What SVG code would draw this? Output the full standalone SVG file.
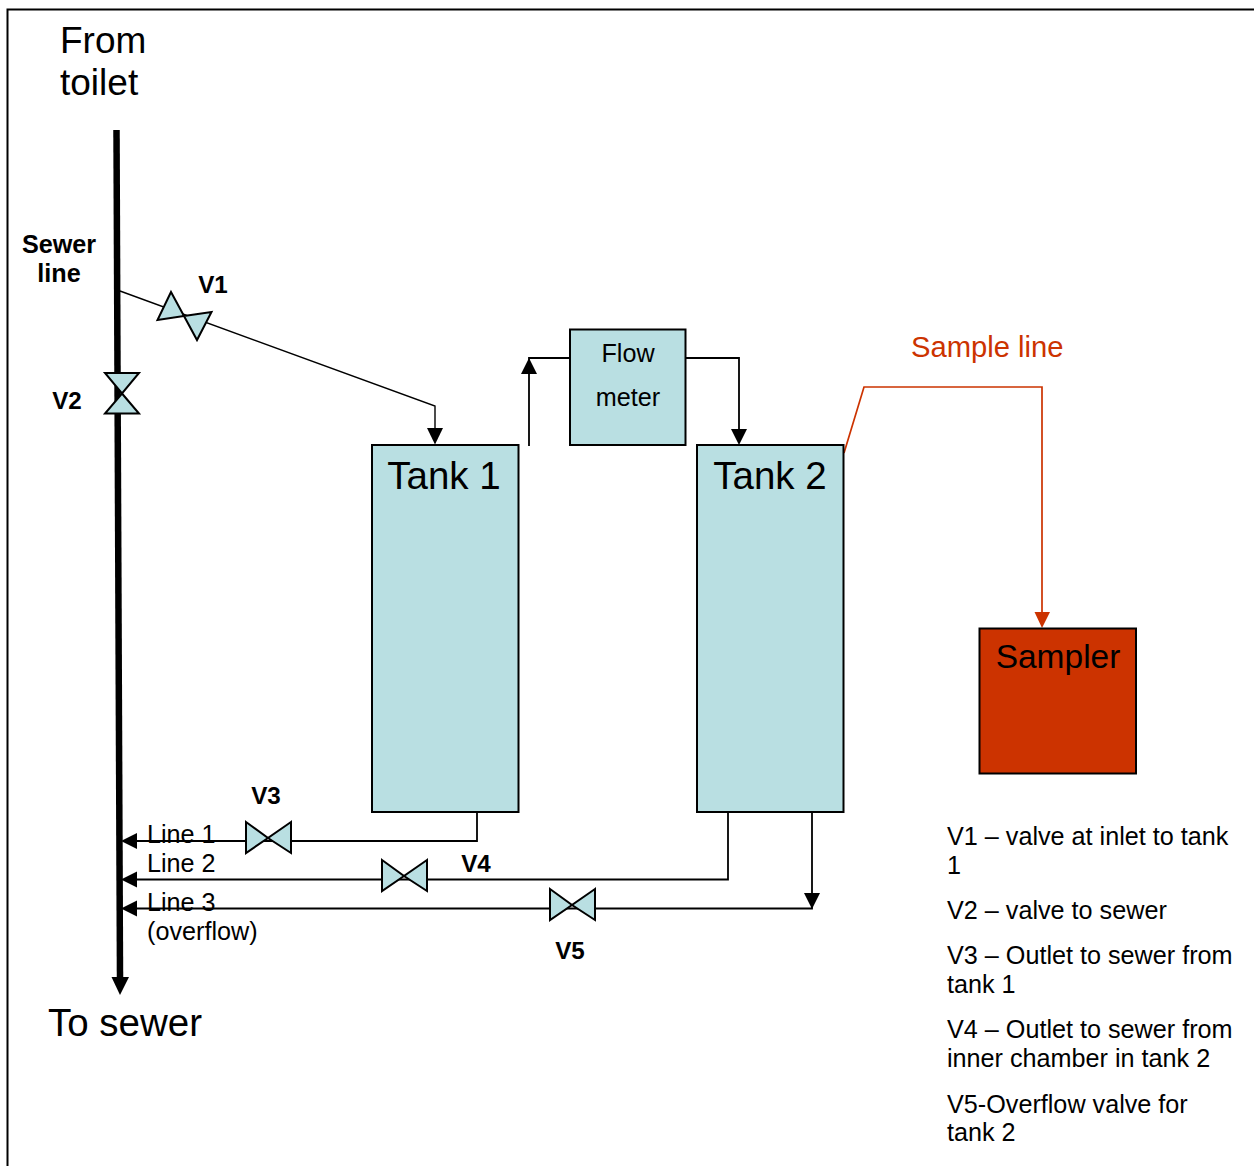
<svg xmlns="http://www.w3.org/2000/svg" width="1254" height="1166" viewBox="0 0 1254 1166">
<style>
text{font-family:"Liberation Sans",Arial,sans-serif;fill:#000}
.box{fill:#b9dfe2;stroke:#000;stroke-width:2}
.v{fill:#b9dfe2;stroke:#000;stroke-width:2;stroke-linejoin:miter}
.l{fill:none;stroke:#000;stroke-width:1.8}
.b{font-weight:bold;font-size:25.200px;text-anchor:middle}
.vl{font-weight:bold;font-size:24.200px;text-anchor:middle}
.t{font-size:25.200px}
.big{font-size:37px}
.huge{font-size:38.500px}
.ah{fill:#000;stroke:none}
</style>
<rect width="1254" height="1166" fill="#fff"/>
<path id="frame" d="M7.500 1166V9.500H1254" fill="none" stroke="#000" stroke-width="2"/>
<g id="connectors">
<path d="M116.500 130L120 978" fill="none" stroke="#000" stroke-width="6.500"/>
<path class="ah" d="M111.500 977H129L120 995Z"/>
<path class="l" style="stroke-width:1.400" d="M120 291L435 406V430"/>
<path class="ah" d="M427 428H443L435 444.500Z"/>
<path class="l" d="M529 446V358H570"/>
<path class="ah" d="M521 374H537L529 358Z"/>
<path class="l" d="M686 358H739V430"/>
<path class="ah" d="M731 429H747L739 445Z"/>
<path class="l" d="M477 812V841H135"/>
<path class="ah" d="M121 841L137 833V849Z"/>
<path class="l" d="M728 812V879.500H135"/>
<path class="ah" d="M121 879.500L137 871.500V887.500Z"/>
<path class="l" d="M812 812V908.500H135"/>
<path class="ah" d="M121 908.500L137 900.500V916.500Z"/>
<path class="ah" d="M804 893H820L812 909Z"/>
<path d="M844 453L864 387H1042V614" fill="none" stroke="#cc3300" stroke-width="1.700"/>
<path d="M1034.500 612H1050L1042 628Z" fill="#cc3300"/>
</g>
<g id="tank1"><rect class="box" x="372" y="445" width="146.500" height="367"/><text class="huge" x="444" y="488.500" text-anchor="middle">Tank 1</text></g>
<g id="tank2"><rect class="box" x="697" y="445" width="146.500" height="367"/><text class="huge" x="770" y="488.500" text-anchor="middle">Tank 2</text></g>
<g id="flowmeter"><rect class="box" x="570" y="329.500" width="115.500" height="115.500"/><text class="t" x="628" y="362" text-anchor="middle">Flow</text><text class="t" x="628" y="406" text-anchor="middle">meter</text></g>
<g id="sampler"><rect x="979.500" y="628.500" width="156.500" height="145" fill="#cc3300" stroke="#000" stroke-width="2"/><text x="1058" y="668" text-anchor="middle" font-size="33.500">Sampler</text></g>
<g id="v1"><path class="v" d="M171 292L184 316L157.500 320Z"/><path class="v" d="M184 316L211.500 312L197 340Z"/></g>
<g id="v2"><path class="v" d="M105 373H139L122 393.500Z"/><path class="v" d="M122 393.500L139 413.500H105Z"/></g>
<g id="v3"><path class="v" d="M246 822L268 838L246 853Z"/><path class="v" d="M291 822L268 838L291 853Z"/></g>
<g id="v4"><path class="v" d="M382 860L404 876L382 891Z"/><path class="v" d="M427 860L404 876L427 891Z"/></g>
<g id="v5"><path class="v" d="M550 889L572 905L550 920Z"/><path class="v" d="M595 889L572 905L595 920Z"/></g>
<g id="labels">
<text x="60" y="53" class="big">From</text>
<text x="60" y="95" class="big">toilet</text>
<text class="huge" x="48" y="1035.500">To sewer</text>
<text class="b" x="59" y="253">Sewer</text>
<text class="b" x="59" y="282">line</text>
<text class="vl" x="213" y="293">V1</text>
<text class="vl" x="67" y="408.500">V2</text>
<text class="vl" x="266" y="804">V3</text>
<text class="vl" x="476" y="871.500">V4</text>
<text class="vl" x="570" y="958.500">V5</text>
<text class="t" x="147" y="843">Line 1</text>
<text class="t" x="147" y="872">Line 2</text>
<text class="t" x="147" y="911">Line 3</text>
<text class="t" x="147" y="940">(overflow)</text>
<text x="911" y="357" font-size="29.200" style="fill:#cc3300">Sample line</text>
<text class="t" x="947" y="845">V1 – valve at inlet to tank</text>
<text class="t" x="947" y="874">1</text>
<text class="t" x="947" y="919">V2 – valve to sewer</text>
<text class="t" x="947" y="964">V3 – Outlet to sewer from</text>
<text class="t" x="947" y="993">tank 1</text>
<text class="t" x="947" y="1038">V4 – Outlet to sewer from</text>
<text class="t" x="947" y="1067">inner chamber in tank 2</text>
<text class="t" x="947" y="1113">V5-Overflow valve for</text>
<text class="t" x="947" y="1141">tank 2</text>
</g>
</svg>
